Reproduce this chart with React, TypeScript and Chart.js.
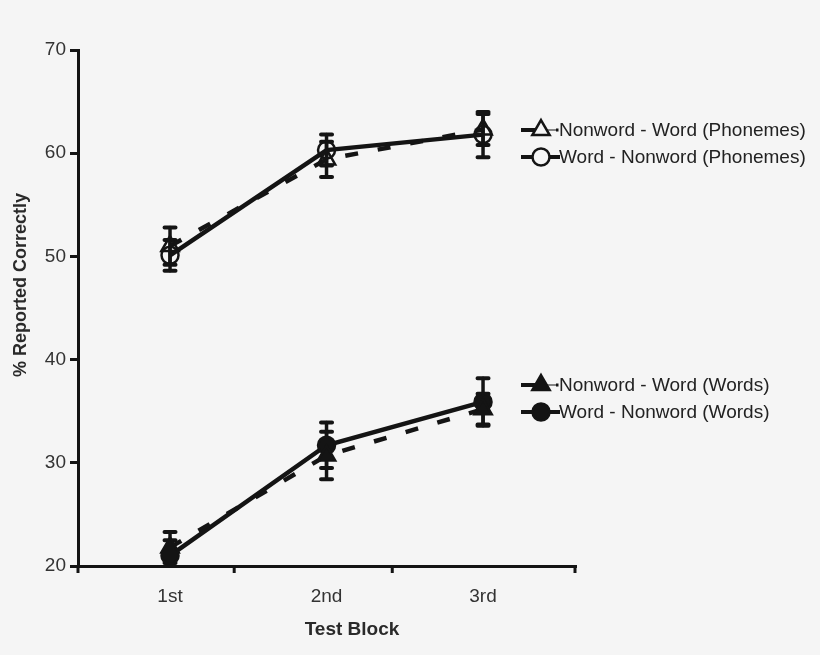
import { useEffect, useRef } from "react";
import { Chart, registerables } from "chart.js";
Chart.register(...registerables);

const blocks = ["1st", "2nd", "3rd"];
const blockPos = [1, 2, 3];
const phonNWW = [51.0, 59.4, 62.3];
const phonNWWErr = [1.8, 1.7, 1.5];
const phonWNW = [50.1, 60.3, 61.8];
const phonWNWErr = [1.5, 1.5, 2.2];
const wordsNWW = [21.8, 30.7, 35.2];
const wordsNWWErr = [1.5, 2.3, 1.5];
const wordsWNW = [21.0, 31.7, 35.9];
const wordsWNWErr = [1.5, 2.2, 2.3];
const yTicks = [20, 30, 40, 50, 60, 70];
const xMinorTicks = [1.41, 2.42];
const seriesLabels = [
  "Nonword - Word (Phonemes)",
  "Word - Nonword (Phonemes)",
  "Nonword - Word (Words)",
  "Word - Nonword (Words)",
];
const xTitle = "Test Block";
const yTitle = "% Reported Correctly";

const INK = "#141414";
const FONT = "'Liberation Sans', Arial, sans-serif";

type Style = { dashed: boolean; shape: "triangle" | "circle"; filled: boolean };
const styles: Style[] = [
  { dashed: true, shape: "triangle", filled: false },
  { dashed: false, shape: "circle", filled: false },
  { dashed: true, shape: "triangle", filled: true },
  { dashed: false, shape: "circle", filled: true },
];
const values = [phonNWW, phonWNW, wordsNWW, wordsWNW];
const errors = [phonNWWErr, phonWNWErr, wordsNWWErr, wordsWNWErr];

function drawMarker(ctx: CanvasRenderingContext2D, s: Style, x: number, y: number) {
  ctx.save();
  ctx.beginPath();
  if (s.shape === "triangle") {
    const r = 10;
    let rad = 0;
    ctx.moveTo(x + Math.sin(rad) * r, y - Math.cos(rad) * r);
    rad += (2 * Math.PI) / 3;
    ctx.lineTo(x + Math.sin(rad) * r, y - Math.cos(rad) * r);
    rad += (2 * Math.PI) / 3;
    ctx.lineTo(x + Math.sin(rad) * r, y - Math.cos(rad) * r);
    ctx.closePath();
  } else {
    ctx.arc(x, y, 8.5, 0, Math.PI * 2);
  }
  ctx.lineWidth = 2.5;
  ctx.strokeStyle = INK;
  ctx.fillStyle = s.filled ? INK : "#f5f5f5";
  ctx.fill();
  ctx.stroke();
  ctx.restore();
}

const errorBars = {
  id: "errorBars",
  beforeDatasetsDraw(chart: any) {
    const { ctx, chartArea, scales } = chart;
    const xs = scales.x;
    const ys = scales.y;
    ctx.save();
    ctx.beginPath();
    ctx.rect(chartArea.left, chartArea.top - 20, chartArea.right - chartArea.left, chartArea.bottom - chartArea.top + 20);
    ctx.clip();
    ctx.strokeStyle = INK;
    ctx.lineCap = "round";
    values.forEach((vals, si) => {
      vals.forEach((v, i) => {
        const px = xs.getPixelForValue(blockPos[i]);
        const top = ys.getPixelForValue(v + errors[si][i]);
        const bot = ys.getPixelForValue(v - errors[si][i]);
        ctx.lineWidth = 3.5;
        ctx.beginPath();
        ctx.moveTo(px, top);
        ctx.lineTo(px, bot);
        ctx.stroke();
        ctx.lineWidth = 4;
        ctx.beginPath();
        ctx.moveTo(px - 5.5, top);
        ctx.lineTo(px + 5.5, top);
        ctx.moveTo(px - 5.5, bot);
        ctx.lineTo(px + 5.5, bot);
        ctx.stroke();
      });
    });
    ctx.restore();
  },
};

const decorations = {
  id: "decorations",
  afterDraw(chart: any) {
    const { ctx, chartArea, scales } = chart;
    const xs = scales.x;
    ctx.save();
    ctx.strokeStyle = INK;
    ctx.lineWidth = 3;
    const marks = [chartArea.left, ...xMinorTicks.map((v) => xs.getPixelForValue(v)), chartArea.right - 1];
    marks.forEach((px) => {
      ctx.beginPath();
      ctx.moveTo(px, chartArea.bottom);
      ctx.lineTo(px, chartArea.bottom + 7);
      ctx.stroke();
    });
    ctx.fillStyle = "#2a2a2a";
    ctx.font = `bold 19px ${FONT}`;
    ctx.textAlign = "center";
    ctx.textBaseline = "middle";
    ctx.fillText(xTitle, 352, 630);
    ctx.save();
    ctx.translate(21, 285);
    ctx.rotate(-Math.PI / 2);
    ctx.font = `bold 18px ${FONT}`;
    ctx.fillText(yTitle, 0, 0);
    ctx.restore();
    const rows = [130, 157, 385, 412];
    seriesLabels.forEach((label, i) => {
      const s = styles[i];
      const y = rows[i];
      ctx.strokeStyle = INK;
      ctx.lineCap = "butt";
      if (s.dashed) {
        ctx.lineWidth = 4;
        ctx.beginPath();
        ctx.moveTo(521, y);
        ctx.lineTo(541, y);
        ctx.stroke();
        ctx.lineWidth = 1;
        ctx.beginPath();
        ctx.moveTo(541, y);
        ctx.lineTo(557, y);
        ctx.stroke();
        ctx.fillStyle = INK;
        ctx.fillRect(556, y - 1.5, 2.5, 3);
      } else {
        ctx.lineWidth = 4;
        ctx.beginPath();
        ctx.moveTo(521, y);
        ctx.lineTo(560, y);
        ctx.stroke();
      }
      drawMarker(ctx, s, 541, y);
      ctx.fillStyle = "#222";
      ctx.font = `19px ${FONT}`;
      ctx.textAlign = "left";
      ctx.textBaseline = "middle";
      ctx.fillText(label, 559, y + 1);
    });
    ctx.restore();
  },
};

export default function App() {
  const ref = useRef<HTMLCanvasElement | null>(null);
  useEffect(() => {
    if (!ref.current) return;
    const datasets = values.map((vals, si) => {
      const s = styles[si];
      return {
        label: seriesLabels[si],
        data: vals.map((v, i) => ({ x: blockPos[i], y: v })),
        borderColor: INK,
        borderWidth: 4.5,
        borderDash: s.dashed ? [13, 20] : [],
        borderCapStyle: "butt",
        pointStyle: s.shape,
        pointRadius: s.shape === "triangle" ? 10 : 8.5,
        pointBorderWidth: 2.5,
        pointBorderColor: INK,
        pointBackgroundColor: s.filled ? INK : "rgba(0,0,0,0)",
        tension: 0,
        clip: false,
      };
    });
    const chart = new Chart(ref.current, {
      type: "line",
      data: { datasets: datasets as any },
      options: {
        animation: false,
        responsive: false,
        layout: { padding: { left: 0, right: 244, top: 50, bottom: 0 } },
        plugins: { legend: { display: false }, tooltip: { enabled: false } },
        scales: {
          x: {
            type: "linear",
            min: 0.412,
            max: 3.594,
            afterBuildTicks: (scale: any) => {
              scale.ticks = blockPos.map((v) => ({ value: v }));
            },
            afterFit: (scale: any) => {
              scale.height = 89;
            },
            border: { color: INK, width: 3 },
            grid: { display: false, drawTicks: false },
            ticks: {
              padding: 19,
              color: "#333",
              font: { size: 19, family: FONT },
              callback: (v: any) => blocks[blockPos.indexOf(Number(v))] ?? "",
            },
          },
          y: {
            min: 20,
            max: 70,
            afterBuildTicks: (scale: any) => {
              scale.ticks = yTicks.map((v) => ({ value: v }));
            },
            afterFit: (scale: any) => {
              scale.width = 78;
            },
            border: { color: INK, width: 3 },
            grid: { drawOnChartArea: false, drawTicks: true, tickLength: 8, color: INK, lineWidth: 3 },
            ticks: { padding: 4, color: "#333", font: { size: 19, family: FONT } },
          },
        },
      },
      plugins: [errorBars, decorations],
    });
    return () => chart.destroy();
  }, []);
  return (
    <div style={{ position: "fixed", left: 0, top: 0, width: 820, height: 655, background: "#f5f5f5" }}>
      <canvas ref={ref} width={820} height={655} style={{ display: "block" }} />
    </div>
  );
}
